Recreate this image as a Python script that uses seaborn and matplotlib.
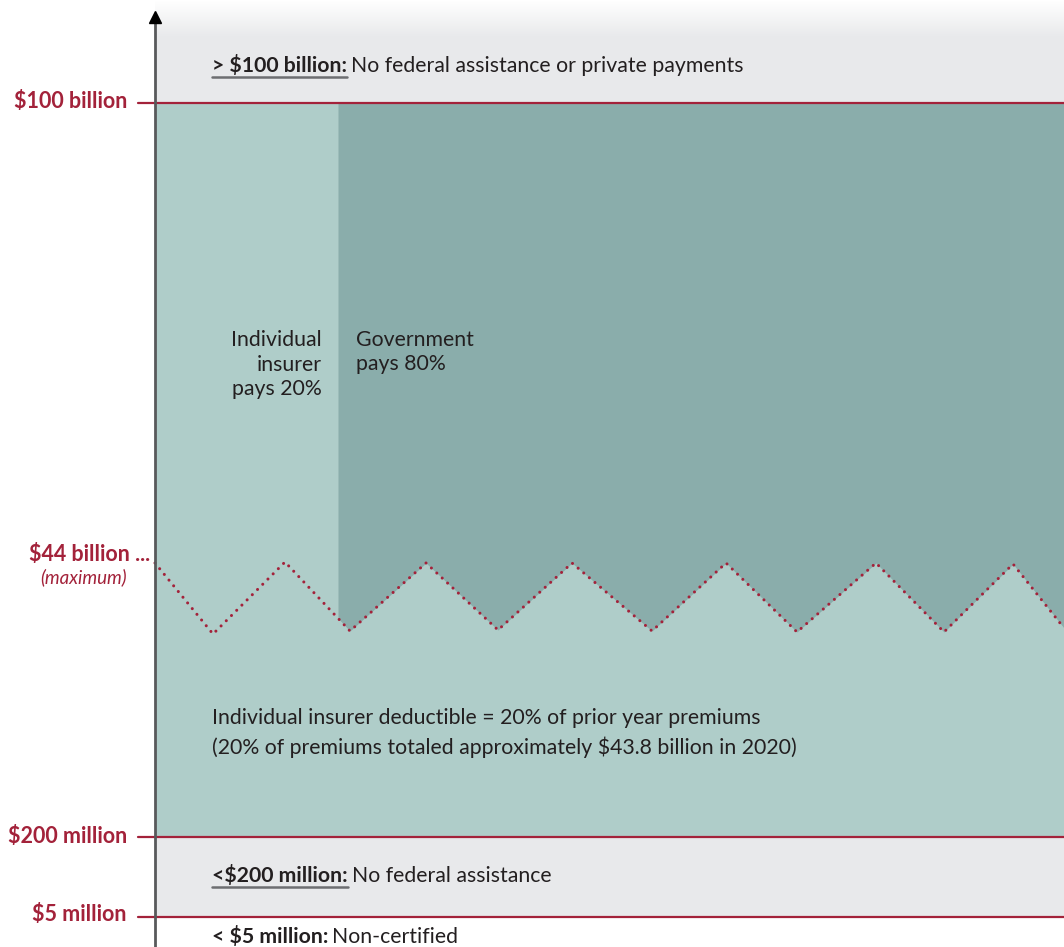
import numpy as np
import matplotlib
matplotlib.use("Agg")
import matplotlib.pyplot as plt
import seaborn as sns

# canvas is laid out in pixel units of the original graphic
W, H = 1064, 947

# threshold lines: label and where they sit on the vertical scale
tier_labels = ['$100 billion', '$200 million', '$5 million']
tier_y = [103, 837, 917]

# zigzag marking the $44 billion maximum deductible
zig_x = [155, 213, 285, 350, 426, 498, 572, 652, 726, 797, 876, 944, 1013, 1064]
zig_y = [563, 634, 562, 631, 563, 630, 563, 631, 563, 632, 563, 632, 564, 628]

# where the insurer / government split starts
split_x = 338

RED = '#a3223a'
LIGHT = '#afcdc9'
DARK = '#8aadab'
GRAY = '#e8e9eb'
INK = '#231f20'

sns.set_theme(style='white')
plt.rcParams['font.family'] = ['Lato', 'DejaVu Sans']

fig = plt.figure(figsize=(W / 100, H / 100), dpi=100)
ax = fig.add_axes([0, 0, 1, 1])
ax.set_xlim(0, W)
ax.set_ylim(H, 0)
ax.axis('off')

# grey bands (top one fades to white)
grad = np.linspace(0, 1, 60).reshape(-1, 1)
top = np.ones((60, 1, 3))
g = np.array([0xe8, 0xe9, 0xeb]) / 255
top[:, 0, :] = 1 - np.clip(grad * 1.6, 0, 1) * (1 - g)
ax.imshow(top, extent=[155, W, 60, 0], aspect='auto', zorder=0)
ax.fill_between([155, W], 60, tier_y[0], color=GRAY, lw=0, zorder=0)
ax.fill_between([155, W], tier_y[1], tier_y[2], color=GRAY, lw=0, zorder=0)

# teal block
ax.fill_between([155, W], tier_y[0], tier_y[1], color=LIGHT, lw=0, zorder=1)
zx = np.array(zig_x, dtype=float)
zy = np.array(zig_y, dtype=float)
y_split = np.interp(split_x, zx, zy)
mask = zx > split_x
dx = np.concatenate([[split_x], zx[mask]])
dy = np.concatenate([[y_split], zy[mask]])
ax.fill_between(dx, tier_y[0], dy, color=DARK, lw=0, zorder=2)

# dotted zigzag
sns.lineplot(x=zig_x, y=zig_y, ax=ax, color=RED, lw=2.2,
             linestyle=(0, (0.01, 2.4)), dash_capstyle='round', zorder=4,
             sort=False, estimator=None)

# threshold lines
for yv in tier_y:
    ax.plot([138, W], [yv, yv], color=RED, lw=1.6, zorder=5)

# vertical axis with arrow
ax.plot([155, 155], [H, 22], color='#58595b', lw=2, zorder=6)
ax.plot([155], [17], marker='^', color='black', ms=8, zorder=7)

# left labels
lab_base = [108, 843, 921]
for lab, yb in zip(tier_labels, lab_base):
    ax.text(127, yb, lab, color=RED, fontsize=15.5, fontweight='bold',
            ha='right', va='baseline')
ax.text(150, 561, '$44 billion ...', color=RED, fontsize=15.5, fontweight='bold',
        ha='right', va='baseline')
ax.text(127, 583, '(maximum)', color=RED, fontsize=13.5, style='italic',
        ha='right', va='baseline')

fig.canvas.draw()

FS = 15.3


def tier_note(x, y, bold, rest, underline=True, size=FS):
    t = ax.text(x, y, bold, color=INK, fontsize=size, fontweight='bold',
                va='baseline', zorder=8)
    fig.canvas.draw()
    bb = t.get_window_extent().transformed(ax.transData.inverted())
    x1 = max(bb.x0, bb.x1)
    ax.text(x1 + 4, y, rest, color=INK, fontsize=size, va='baseline', zorder=8)
    if underline:
        ax.plot([x, x1], [y + 5, y + 5], color='#6d6e71', lw=1.8, zorder=8)


tier_note(212, 72, '> $100 billion:', 'No federal assistance or private payments')
tier_note(212, 882, '<$200 million:', 'No federal assistance')
tier_note(212, 943, '< $5 million:', 'Non-certified', underline=False)

# share labels, one line at a time
for line, yb in zip(['Individual', 'insurer', 'pays 20%'], [346, 371, 395]):
    ax.text(322, yb, line, color=INK, fontsize=FS, ha='right', va='baseline', zorder=8)
for line, yb in zip(['Government', 'pays 80%'], [346, 370]):
    ax.text(356, yb, line, color=INK, fontsize=FS, ha='left', va='baseline', zorder=8)

ax.text(212, 724, 'Individual insurer deductible = 20% of prior year premiums',
        color=INK, fontsize=FS, va='baseline', zorder=8)
ax.text(212, 754, '(20% of premiums totaled approximately $43.8 billion in 2020)',
        color=INK, fontsize=FS, va='baseline', zorder=8)

fig.savefig('out.png', dpi=100)
